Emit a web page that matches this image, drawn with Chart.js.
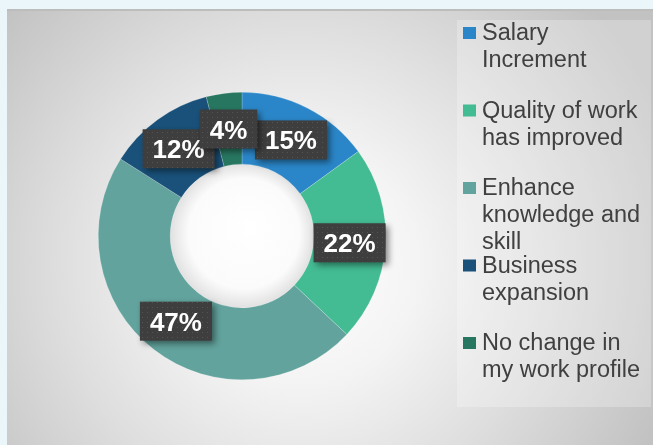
<!DOCTYPE html>
<html>
<head>
<meta charset="utf-8">
<script src="https://cdn.jsdelivr.net/npm/chart.js@4"></script>
<style>
  html, body { margin: 0; padding: 0; background: #eaf6fa; }
  canvas { display: block; }
</style>
</head>
<body>
<canvas id="grafico" width="653" height="445"></canvas>
<script>
// dados do gráfico
const categorias = [
  ["Salary", "Increment"],
  ["Quality of work", "has improved"],
  ["Enhance", "knowledge and", "skill"],
  ["Business", "expansion"],
  ["No change in", "my work profile"]
];
const percentuais = [15, 22, 47, 12, 4];
const cores = ["#2a86c8", "#43bb93", "#62a39d", "#19517a", "#277760"];

// fundo com gradiente e caixa da legenda
const fundoPlugin = {
  id: "fundo",
  beforeDraw(chart) {
    const ctx = chart.ctx;
    ctx.save();
    ctx.fillStyle = "#eaf6fa";
    ctx.fillRect(0, 0, chart.width, chart.height);
    const g = ctx.createRadialGradient(300, 265, 0, 300, 265, 390);
    g.addColorStop(0, "#ffffff");
    g.addColorStop(0.3, "#f4f4f4");
    g.addColorStop(0.62, "#dedede");
    g.addColorStop(1, "#c2c2c2");
    ctx.fillStyle = g;
    ctx.fillRect(7, 9, 646, 436);
    ctx.fillStyle = "#bdbdbd";
    ctx.fillRect(7, 9, 646, 2);
    ctx.fillStyle = "rgba(255,255,255,0.25)";
    ctx.fillRect(457, 20, 194, 387);
    ctx.restore();
  },
  beforeDatasetsDraw(chart) {
    // miolo branco com sombra interna
    const arco = chart.getDatasetMeta(0).data[0];
    if (!arco) return;
    const ctx = chart.ctx;
    const r = arco.innerRadius;
    ctx.save();
    const g = ctx.createRadialGradient(arco.x + 8, arco.y - 10, 0, arco.x, arco.y, r + 2);
    g.addColorStop(0, "#ffffff");
    g.addColorStop(0.75, "#fbfbfb");
    g.addColorStop(1, "#dedede");
    ctx.fillStyle = g;
    ctx.beginPath();
    ctx.arc(arco.x, arco.y, r + 0.5, 0, Math.PI * 2);
    ctx.fill();
    ctx.restore();
  }
};

// padrão pontilhado das etiquetas
function criarPadrao(ctx) {
  const c = document.createElement("canvas");
  c.width = 5;
  c.height = 5;
  const p = c.getContext("2d");
  p.fillStyle = "#3e3e3e";
  p.fillRect(0, 0, 5, 5);
  p.fillStyle = "#545454";
  p.fillRect(2, 2, 1, 1);
  return ctx.createPattern(c, "repeat");
}

const etiquetasPlugin = {
  id: "etiquetas",
  afterDatasetsDraw(chart) {
    const ctx = chart.ctx;
    const meta = chart.getDatasetMeta(0);
    const padrao = criarPadrao(ctx);
    ctx.save();
    ctx.font = "bold 26px 'Liberation Sans', Arial, sans-serif";
    meta.data.forEach((arco, i) => {
      const pos = arco.tooltipPosition();
      const texto = percentuais[i] + "%";
      const w = ctx.measureText(texto).width + 20;
      const h = 39;
      ctx.save();
      ctx.shadowColor = "rgba(0,0,0,0.45)";
      ctx.shadowBlur = 6;
      ctx.shadowOffsetX = 3;
      ctx.shadowOffsetY = 3;
      ctx.fillStyle = padrao;
      ctx.fillRect(pos.x - w / 2, pos.y - h / 2, w, h);
      ctx.restore();
      ctx.fillStyle = "#ffffff";
      ctx.textAlign = "center";
      ctx.textBaseline = "alphabetic";
      ctx.fillText(texto, pos.x, pos.y + 9.5);
    });
    ctx.restore();
  }
};

// legenda desenhada à mão (rótulos em várias linhas)
const legendaPlugin = {
  id: "legenda",
  afterDraw(chart) {
    const ctx = chart.ctx;
    const passo = 77.5;
    const linha = 27;
    ctx.save();
    ctx.font = "23.5px 'Liberation Sans', Arial, sans-serif";
    ctx.textAlign = "left";
    ctx.textBaseline = "alphabetic";
    chart.data.labels.forEach((rotulo, i) => {
      const base = 40 + i * passo;
      ctx.fillStyle = cores[i];
      ctx.fillRect(463, base - 13, 13, 12);
      ctx.fillStyle = "#404040";
      rotulo.forEach((t, j) => {
        ctx.fillText(t, 482, base + j * linha);
      });
    });
    ctx.restore();
  }
};

const ctx = document.getElementById("grafico").getContext("2d");
const myChart = new Chart(ctx, {
  type: "doughnut",
  data: {
    labels: categorias,
    datasets: [
      {
        data: percentuais,
        backgroundColor: cores,
        borderColor: "rgba(255,255,255,0.4)",
        borderWidth: 0.5,
      },
    ],
  },
  options: {
    responsive: false,
    animation: false,
    cutout: "50%",
    layout: {
      padding: { left: 98, top: 92, right: 267, bottom: 65 },
    },
    plugins: {
      legend: { display: false },
      tooltip: { enabled: false },
    },
  },
  plugins: [fundoPlugin, etiquetasPlugin, legendaPlugin],
});
</script>
</body>
</html>
